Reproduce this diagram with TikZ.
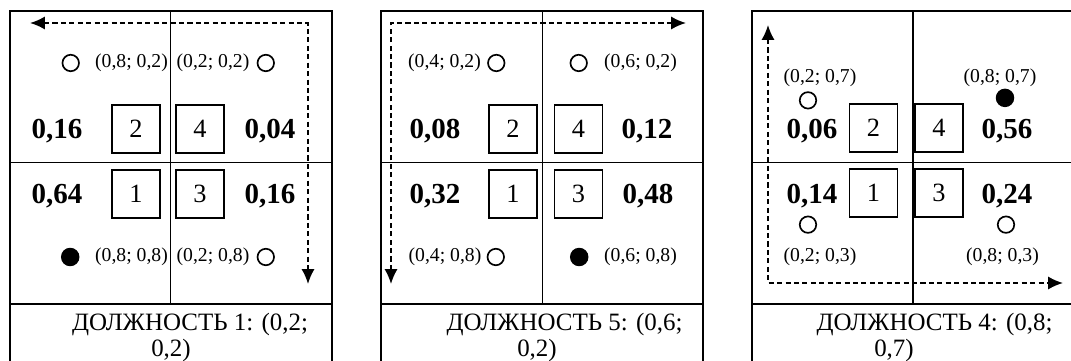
\documentclass[tikz,border=0pt]{standalone}
\usepackage{fontspec}
\setmainfont{Liberation Serif}
\usepackage{tikz}
\usetikzlibrary{arrows.meta,positioning}

\begin{document}
\begin{tikzpicture}[
        x=0.02cm, y=-0.02cm,
        frame/.style={line width=1pt},
        mid/.style={line width=0.7pt},
        cell/.style={rectangle, draw, line width=0.9pt, minimum size=0.96cm, inner sep=0pt, font=\fontsize{15}{15}\selectfont},
        num/.style={inner sep=0pt, font=\fontsize{16.5}{16.5}\selectfont\bfseries},
        pt/.style={inner sep=0pt, font=\fontsize{11.2}{11.2}\selectfont},
        hole/.style={circle, draw, line width=0.95pt, minimum size=0.33cm, inner sep=0pt},
        dot/.style={circle, fill, minimum size=0.37cm, inner sep=0pt},
        post/.style={inner sep=0pt, anchor=base, font=\fontsize{14.2}{16}\selectfont},
        arr/.style={line width=1pt, dash pattern=on 2.9pt off 1.9pt, {Latex[length=8.5pt,width=7.5pt]}-{Latex[length=8.5pt,width=7.5pt]}}
    ]
        \useasboundingbox (0,0) rectangle (1071,361);
        \clip (0,0) rectangle (1071,361);

        \draw[frame] (10,361) -- (10,11) -- (332,11) -- (332,361);
        \draw[frame] (10,162.5) -- (332,162.5);
        \draw[frame] (10,304) -- (332,304);
        \draw[mid] (170.5,11) -- (170.5,304);
        \node[cell] (p1b2) at (136,129) {2};
        \node[cell] (p1b4) at (200,129) {4};
        \node[cell] (p1b1) at (136,194) {1};
        \node[cell] (p1b3) at (200,194) {3};
        \node[num] (p1n2) at (57,131) {0,16};
        \node[num] (p1n4) at (270,131) {0,04};
        \node[num] (p1n1) at (57,196) {0,64};
        \node[num] (p1n3) at (270,196) {0,16};
        \node[pt] (p1t1) at (131.5,63) {(0,8; 0,2)};
        \node[hole, left=0.3cm of p1t1] (p1c1) {};
        \node[pt] (p1t2) at (213,63) {(0,2; 0,2)};
        \node[hole, right=0.14cm of p1t2] (p1c2) {};
        \node[pt] (p1t3) at (131.5,257) {(0,8; 0,8)};
        \node[dot, left=0.3cm of p1t3] (p1c3) {};
        \node[pt] (p1t4) at (213,257) {(0,2; 0,8)};
        \node[hole, right=0.14cm of p1t4] (p1c4) {};
        \coordinate (p1a) at (30,23);
        \coordinate (p1k) at (308,23);
        \coordinate (p1z) at (308,284);
        \draw[arr] (p1a) -- (p1k) -- (p1z);
        \node[post] (p1l) at (190,330) {ДОЛЖНОСТЬ 1: (0,2;};
        \node[post] (p1m) at (171,356) {0,2)};

        \draw[frame] (381,361) -- (381,11) -- (703,11) -- (703,361);
        \draw[frame] (381,162.5) -- (703,162.5);
        \draw[frame] (381,304) -- (703,304);
        \draw[mid] (542.5,11) -- (542.5,304);
        \node[cell] (p2b2) at (513,129) {2};
        \node[cell] (p2b4) at (578.5,129) {4};
        \node[cell] (p2b1) at (513,194) {1};
        \node[cell] (p2b3) at (578.5,194) {3};
        \node[num] (p2n2) at (435,131) {0,08};
        \node[num] (p2n4) at (647,131) {0,12};
        \node[num] (p2n1) at (435,196) {0,32};
        \node[num] (p2n3) at (648,196) {0,48};
        \node[pt] (p2t1) at (444.5,63) {(0,4; 0,2)};
        \node[hole, right=0.12cm of p2t1] (p2c1) {};
        \node[pt] (p2t2) at (640.5,63) {(0,6; 0,2)};
        \node[hole, left=0.32cm of p2t2] (p2c2) {};
        \node[pt] (p2t3) at (445,257) {(0,4; 0,8)};
        \node[hole, right=0.1cm of p2t3] (p2c3) {};
        \node[pt] (p2t4) at (640.5,257) {(0,6; 0,8)};
        \node[dot, left=0.3cm of p2t4] (p2c4) {};
        \coordinate (p2a) at (391,284);
        \coordinate (p2k) at (391,23);
        \coordinate (p2z) at (686,23);
        \draw[arr] (p2a) -- (p2k) -- (p2z);
        \node[post] (p2l) at (564.5,330) {ДОЛЖНОСТЬ 5: (0,6;};
        \node[post] (p2m) at (537,356) {0,2)};

        \draw[frame] (752,361) -- (752,11) -- (1074,11) -- (1074,361);
        \draw[frame] (752,162.5) -- (1074,162.5);
        \draw[frame] (752,304) -- (1074,304);
        \draw[mid] (913,11) -- (913,304);
        \node[cell] (p3b2) at (873.5,128) {2};
        \node[cell] (p3b4) at (939,128) {4};
        \node[cell] (p3b1) at (873.5,193) {1};
        \node[cell] (p3b3) at (939,193) {3};
        \node[num] (p3n2) at (812,131) {0,06};
        \node[num] (p3n4) at (1007,131) {0,56};
        \node[num] (p3n1) at (812,196) {0,14};
        \node[num] (p3n3) at (1007,196) {0,24};
        \node[pt] (p3t1) at (820,78) {(0,2; 0,7)};
        \node[hole, below=0.08cm of p3t1, xshift=-0.24cm] (p3c1) {};
        \node[pt] (p3t2) at (1000,78) {(0,8; 0,7)};
        \node[dot, below=0.02cm of p3t2, xshift=0.1cm] (p3c2) {};
        \node[pt] (p3t3) at (820,257) {(0,2; 0,3)};
        \node[hole, above=0.28cm of p3t3, xshift=-0.24cm] (p3c3) {};
        \node[pt] (p3t4) at (1002.5,257) {(0,8; 0,3)};
        \node[hole, above=0.28cm of p3t4, xshift=0.07cm] (p3c4) {};
        \coordinate (p3a) at (768,25);
        \coordinate (p3k) at (768,283);
        \coordinate (p3z) at (1063,283);
        \draw[arr] (p3a) -- (p3k) -- (p3z);
        \node[post] (p3l) at (934.5,330) {ДОЛЖНОСТЬ 4: (0,8;};
        \node[post] (p3m) at (894,356) {0,7)};
    \end{tikzpicture}
\end{document}
